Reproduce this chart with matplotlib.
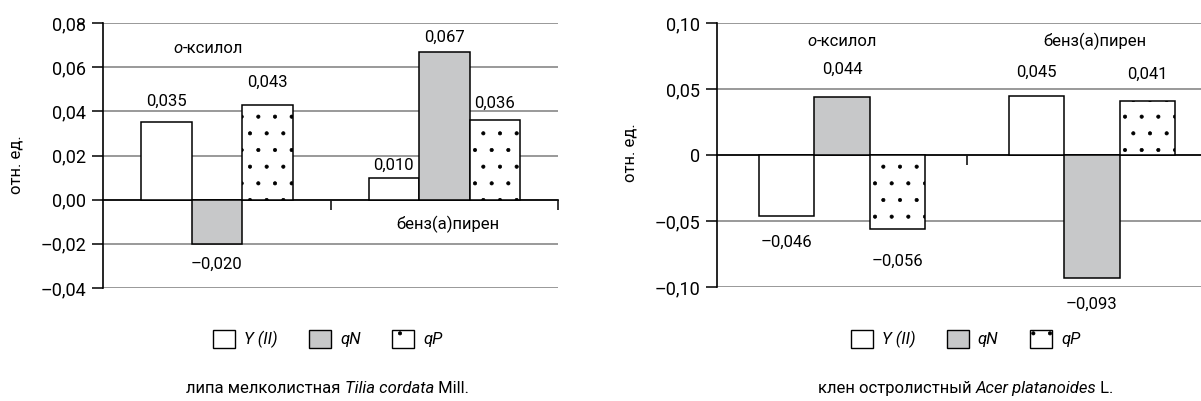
import matplotlib
matplotlib.use('Agg')
import matplotlib.pyplot as plt
from matplotlib.patches import Patch
from matplotlib.offsetbox import TextArea, HPacker, AnnotationBbox
import numpy as np

plt.rcParams['font.family'] = ['Roboto', 'DejaVu Sans']
plt.rcParams['hatch.linewidth'] = 0.5

# data
groups = ['о-ксилол', 'бенз(а)пирен']
series = ['Y (II)', 'qN', 'qP']

tilia_y2 = [0.035, 0.010]
tilia_qn = [-0.020, 0.067]
tilia_qp = [0.043, 0.036]

acer_y2 = [-0.046, 0.045]
acer_qn = [0.044, -0.093]
acer_qp = [-0.056, 0.041]

tilia_ticks = [-0.04, -0.02, 0.0, 0.02, 0.04, 0.06, 0.08]
tilia_ticklabels = ['–0,04', '–0,02', '0,00', '0,02', '0,04', '0,06', '0,08']
acer_ticks = [-0.10, -0.05, 0.0, 0.05, 0.10]
acer_ticklabels = ['–0,10', '–0,05', '0', '0,05', '0,10']

# styles
fills = ['white', '#c7c8c9', 'white']
hatches = [None, None, '.']
# label distance from bar end, pixels
tilia_off = [[21, 12], [20, 14], [22, 17]]
acer_off = [[27, 23], [28, 27], [32, 27]]

W = 0.222


def fmt(v):
    return f'{v:.3f}'.replace('.', ',').replace('-', '–')


def word_box(parts, size):
    # parts: list of (text, italic)
    areas = [TextArea(t, textprops=dict(fontsize=size, fontstyle='italic' if it else 'normal'))
             for t, it in parts]
    return HPacker(children=areas, align='baseline', pad=0, sep=0)


def draw(ax, vals, offs, ticks, ticklabels, ylim, labpos, ylab_xy):
    x = np.arange(len(groups))
    for i, v in enumerate(vals):
        xs = x + (i - 1) * W
        ax.bar(xs, v, W, color=fills[i], edgecolor='black', linewidth=1.1,
               hatch=hatches[i], zorder=3)
        for xx, vv, oo in zip(xs, v, offs[i]):
            d = oo * 0.72 if vv >= 0 else -oo * 0.72
            ax.annotate(fmt(vv), (xx, vv), xytext=(0, d), textcoords='offset points',
                        ha='center', va='center', fontsize=12)
    ax.set_xlim(-0.5, 1.5)
    ax.set_ylim(*ylim)
    ax.set_yticks(ticks)
    ax.set_yticklabels(ticklabels, fontsize=13)
    ax.set_xticks([0.5, 1.5])
    ax.set_xticklabels([])
    ax.tick_params(axis='x', direction='out', length=7, width=1.1, color='black')
    ax.tick_params(axis='y', direction='out', length=8, width=1.1, pad=4, color='black')
    ax.yaxis.grid(True, color='#888888', linewidth=1.2)
    ax.set_axisbelow(True)
    for s in ['top', 'right']:
        ax.spines[s].set_visible(False)
    ax.spines['bottom'].set_position(('data', 0))
    ax.spines['bottom'].set_linewidth(1.2)
    ax.spines['left'].set_linewidth(1.2)
    ax.set_ylabel('отн. ед.', fontsize=12)
    ax.yaxis.set_label_coords(*ylab_xy)
    box1 = word_box([('о', True), ('-ксилол', False)], 12)
    ax.add_artist(AnnotationBbox(box1, labpos[0], xycoords='data', frameon=False, pad=0))
    ax.text(labpos[1][0], labpos[1][1], groups[1], ha='center', va='center', fontsize=12)


fig = plt.figure(figsize=(12.01, 4.01), dpi=100)
ax1 = fig.add_axes([0.0858, 0.2818, 0.3789, 0.6608])
ax2 = fig.add_axes([0.597, 0.2843, 0.4163, 0.6583])

draw(ax1, [tilia_y2, tilia_qn, tilia_qp], tilia_off, tilia_ticks, tilia_ticklabels,
     (-0.04, 0.08), [(-0.038, 0.0684), (1.016, -0.0113)], (-0.175, 0.464))
draw(ax2, [acer_y2, acer_qn, acer_qp], acer_off, acer_ticks, acer_ticklabels,
     (-0.10, 0.10), [(0.0, 0.0858), (1.012, 0.0858)], (-0.16, 0.51))

handles = [Patch(facecolor=fills[i], edgecolor='black', hatch=hatches[i], linewidth=1.0)
           for i in range(3)]
for cx in [0.273, 0.804]:
    fig.legend(handles, series, loc='center', bbox_to_anchor=(cx, 0.155), ncol=3,
               frameon=False, prop=dict(size=12, style='italic'), handlelength=1.3,
               handleheight=1.3, handletextpad=0.55, columnspacing=1.9)

cap1 = word_box([('липа мелколистная ', False), ('Tilia cordata', True), (' Mill.', False)], 12)
cap2 = word_box([('клен остролистный ', False), ('Acer platanoides', True), (' L.', False)], 12)
fig.add_artist(AnnotationBbox(cap1, (0.273, 0.03), xycoords='figure fraction', frameon=False, pad=0))
fig.add_artist(AnnotationBbox(cap2, (0.804, 0.03), xycoords='figure fraction', frameon=False, pad=0))

fig.savefig('out.png', dpi=100)
